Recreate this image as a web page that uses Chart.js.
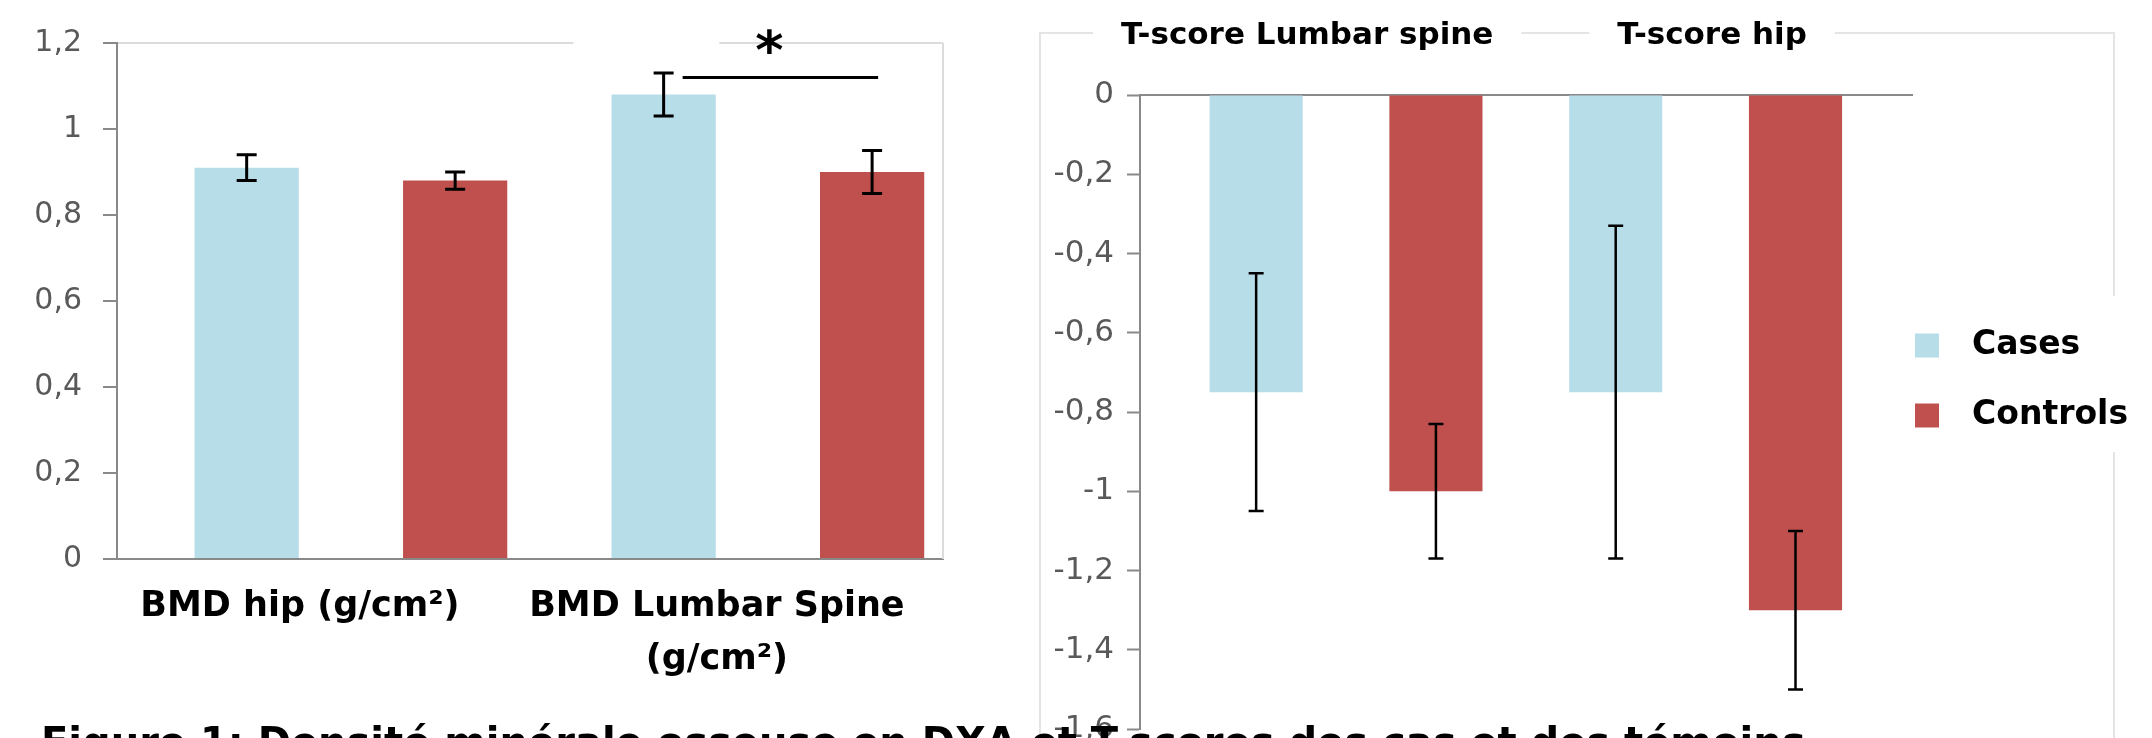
<!DOCTYPE html>
<html><head><meta charset="utf-8">
<script src="https://cdn.jsdelivr.net/npm/chart.js@4.4.1/dist/chart.umd.min.js"></script>
<style>
html,body{margin:0;padding:0;background:#fff;overflow:hidden;width:2152px;height:738px;}
#c1{position:absolute;left:0;top:0;}
#frame{position:absolute;left:1039px;top:32px;width:1076px;height:800px;border:2px solid #e4e4e4;border-bottom:none;box-sizing:border-box;}
#c2{position:absolute;left:1000px;top:0;}
#caption{position:absolute;left:41px;top:719px;font:bold 40px 'DejaVu Sans';white-space:nowrap;color:#000;}
</style></head><body>
<div id="frame"></div>
<canvas id="c1" width="1000" height="738"></canvas>
<canvas id="c2" width="1152" height="800"></canvas>
<div id="caption">Figure 1: Densité minérale osseuse en DXA et T-scores des cas et des témoins</div>
<script>
// ---------- data ----------
const seriesNames = ['Cases', 'Controls'];
const bmdCategories = ['BMD hip (g/cm²)', ['BMD Lumbar Spine', '(g/cm²)']];
const bmdCases = [0.91, 1.08];
const bmdControls = [0.88, 0.90];
const bmdCasesErr = [0.03, 0.05];
const bmdControlsErr = [0.02, 0.05];
const bmdAxis = [0, 1.2, 0.2];           // min, max, step
const sigCategory = 1;                    // BMD Lumbar Spine
const sigLevel = 1.12;
const sigMark = '*';

const tCategories = ['T-score Lumbar spine', 'T-score hip'];
const tCases = [-0.75, -0.75];
const tControls = [-1.00, -1.30];
const tCasesErr = [0.30, 0.42];
const tControlsErr = [0.17, 0.20];
const tAxis = [-1.6, 0, 0.2];

// ---------- styles ----------
const COL_CASES = '#B7DDE8';
const COL_CTRL = '#C0504D';
const AXIS = '#898989';
const LIGHT = '#dcdcdc';
const TICKTXT = '#595959';
const FONT = "'DejaVu Sans'";
const T_LABEL_SHIFT = [-0.108, 0.018];   // label placement (style) for the top axis

Chart.defaults.font.family = FONT;
Chart.defaults.animation = false;

function fmt(v) {
  return String(Number(v.toFixed(1))).replace('.', ',');
}
function pts(arr) { return arr.map((v, i) => ({x: i, y: v})); }

const errorBars = {
  id: 'errorBars',
  afterDatasetsDraw(chart, args, opts) {
    const ctx = chart.ctx, y = chart.scales.y;
    chart.data.datasets.forEach((ds, di) => {
      const meta = chart.getDatasetMeta(di);
      meta.data.forEach((el, i) => {
        const v = ds.data[i].y, e = ds.errors[i];
        const y1 = y.getPixelForValue(v + e), y2 = y.getPixelForValue(v - e);
        ctx.save();
        ctx.strokeStyle = '#000';
        ctx.lineWidth = opts.width;
        ctx.beginPath();
        ctx.moveTo(el.x, y1); ctx.lineTo(el.x, y2);
        ctx.moveTo(el.x - opts.cap, y1); ctx.lineTo(el.x + opts.cap, y1);
        ctx.moveTo(el.x - opts.cap, y2); ctx.lineTo(el.x + opts.cap, y2);
        ctx.stroke();
        ctx.restore();
      });
    });
  }
};

const rightFrame = {
  id: 'rightFrame',
  beforeDatasetsDraw(chart) {
    const {ctx, chartArea: a} = chart;
    ctx.save();
    ctx.strokeStyle = LIGHT; ctx.lineWidth = 2;
    ctx.beginPath(); ctx.moveTo(a.right, a.top); ctx.lineTo(a.right, a.bottom); ctx.stroke();
    ctx.restore();
  }
};

const significance = {
  id: 'significance',
  afterDraw(chart) {
    const ctx = chart.ctx, y = chart.scales.y;
    const a = chart.getDatasetMeta(0).data[sigCategory];
    const b = chart.getDatasetMeta(1).data[sigCategory];
    const yy = y.getPixelForValue(sigLevel);
    const x1 = a.x + 19, x2 = b.x + 6;
    const sx = (x1 + x2) / 2 - 11;
    ctx.save();
    ctx.fillStyle = '#fff';
    ctx.fillRect(sx - 196, chart.chartArea.top - 6, 146, 12);
    ctx.strokeStyle = '#000'; ctx.lineWidth = 3;
    ctx.beginPath(); ctx.moveTo(x1, yy); ctx.lineTo(x2, yy); ctx.stroke();
    ctx.fillStyle = '#000';
    ctx.font = 'bold 54px ' + FONT;
    ctx.textAlign = 'center'; ctx.textBaseline = 'middle';
    ctx.fillText(sigMark, sx, chart.chartArea.top + 12);
    ctx.restore();
  }
};

// ---------- left chart ----------
new Chart(document.getElementById('c1'), {
  type: 'bar',
  data: {
    datasets: [
      {label: seriesNames[0], data: pts(bmdCases), errors: bmdCasesErr, backgroundColor: COL_CASES},
      {label: seriesNames[1], data: pts(bmdControls), errors: bmdControlsErr, backgroundColor: COL_CTRL}
    ]
  },
  options: {
    responsive: false,
    devicePixelRatio: 1,
    categoryPercentage: 1,
    barPercentage: 0.5,
    layout: {padding: {left: 0, top: 43, right: 57, bottom: 0}},
    plugins: {legend: {display: false}, tooltip: {enabled: false}, errorBars: {width: 3, cap: 10}},
    scales: {
      x: {
        type: 'linear', offset: false, min: -0.561, max: 1.42,
        afterBuildTicks: s => { s.ticks = bmdCategories.map((c, i) => ({value: i})); },
        afterFit: s => { s.height = 179; },
        grid: {display: false, drawTicks: false},
        border: {display: true, color: AXIS, width: 2},
        ticks: {
          callback: v => bmdCategories[v],
          color: '#000', padding: 22, labelOffset: -51, maxRotation: 0, autoSkip: false,
          font: {size: 35, weight: 'bold', lineHeight: 1.5}
        }
      },
      y: {
        min: bmdAxis[0], max: bmdAxis[1],
        afterFit: s => { s.width = 117; },
        ticks: {stepSize: bmdAxis[2], callback: v => fmt(v), color: TICKTXT, padding: 21, font: {size: 30}},
        grid: {
          color: c => (c.tick && Math.abs(c.tick.value - bmdAxis[1]) < 1e-9) ? LIGHT : 'rgba(0,0,0,0)',
          tickColor: AXIS, tickLength: 14, lineWidth: 2, tickWidth: 2
        },
        border: {display: true, color: AXIS, width: 2}
      }
    }
  },
  plugins: [errorBars, rightFrame, significance]
});

// ---------- right chart ----------
const legendPlace = {
  id: 'legendPlace',
  afterLayout(chart) {
    const lg = chart.legend;
    lg.left = chart.chartArea.right - lg.options.labels.padding + 3;
    lg.top = chart.chartArea.top + 197;
  },
  beforeDraw(chart) {
    const lg = chart.legend, ctx = chart.ctx;
    ctx.save(); ctx.fillStyle = '#fff';
    ctx.fillRect(lg.left + 20, lg.top + 4, chart.width - lg.left, 156);
    ctx.restore();
  }
};

new Chart(document.getElementById('c2'), {
  type: 'bar',
  data: {
    datasets: [
      {label: seriesNames[0], data: pts(tCases), errors: tCasesErr, backgroundColor: COL_CASES},
      {label: seriesNames[1], data: pts(tControls), errors: tControlsErr, backgroundColor: COL_CTRL}
    ]
  },
  options: {
    responsive: false,
    devicePixelRatio: 1,
    categoryPercentage: 1,
    barPercentage: 0.518,
    layout: {padding: {left: 0, top: 0, right: 0, bottom: 71}},
    plugins: {
      tooltip: {enabled: false},
      errorBars: {width: 2.5, cap: 7.5},
      legend: {
        position: 'right', align: 'start', maxWidth: 240,
        labels: {
          color: '#000', font: {size: 33, weight: 'bold'}, boxWidth: 24, boxHeight: 24, padding: 37,
          generateLabels: ch => Chart.defaults.plugins.legend.labels.generateLabels(ch)
            .map(it => Object.assign(it, {text: '\u2002' + it.text}))
        }
      }
    },
    scales: {
      x: {
        type: 'linear', position: 'top', offset: false, min: -0.573, max: 1.574,
        afterBuildTicks: s => { s.ticks = tCategories.map((c, i) => ({value: i + T_LABEL_SHIFT[i]})); },
        afterFit: s => { s.height = 95; },
        grid: {display: false, drawTicks: false},
        border: {display: true, color: AXIS, width: 2},
        ticks: {
          callback: (v, i) => tCategories[i],
          color: '#000', padding: 40, maxRotation: 0, autoSkip: false,
          font: {size: 31, weight: 'bold', lineHeight: 1.2},
          showLabelBackdrop: true, backdropColor: '#fff', backdropPadding: {x: 28, y: 6}
        }
      },
      y: {
        min: tAxis[0], max: tAxis[1],
        afterFit: s => { s.width = 140; },
        ticks: {stepSize: tAxis[2], callback: v => fmt(v), color: TICKTXT, padding: 13, font: {size: 31}},
        grid: {drawOnChartArea: false, tickColor: AXIS, tickLength: 13, tickWidth: 2},
        border: {display: true, color: AXIS, width: 2}
      }
    }
  },
  plugins: [errorBars, legendPlace]
});
</script>
</body></html>
